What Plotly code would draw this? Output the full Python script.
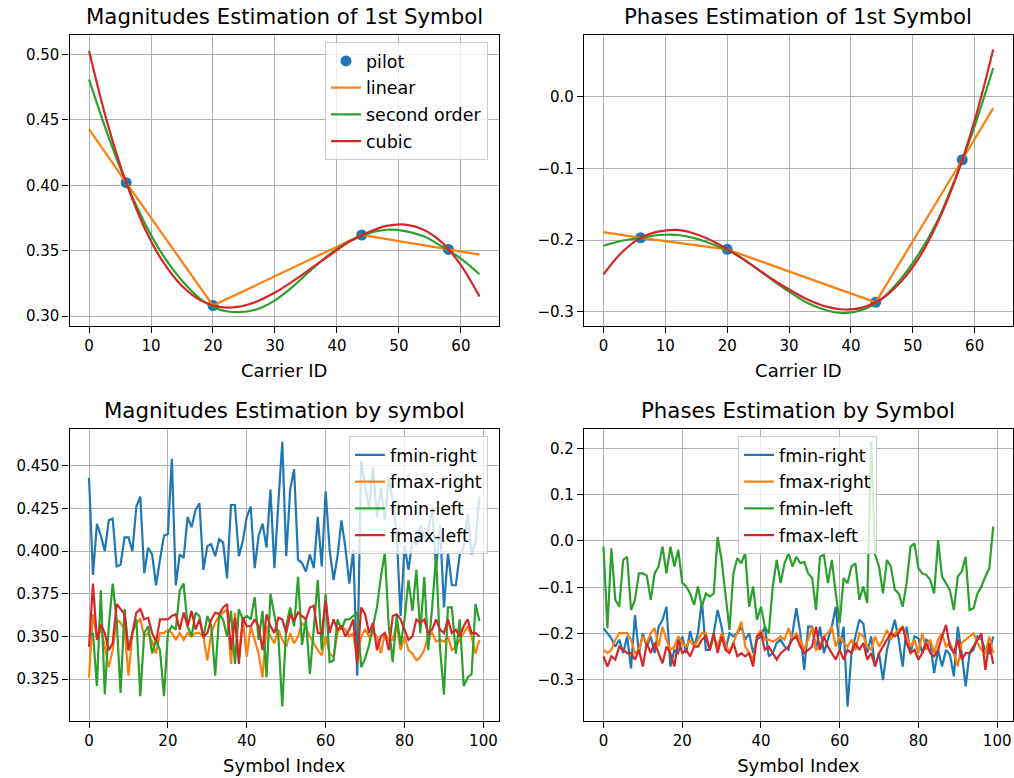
import plotly.graph_objects as go

# ---------------- data ----------------
pilot_x = [6, 20, 44, 58]
pilot_mag = [0.402, 0.308, 0.362, 0.351]
pilot_phase = [-0.197, -0.213, -0.287, -0.088]

linear_x = [0, 6, 20, 44, 58, 63]
linear_mag = [0.443, 0.402, 0.308, 0.362, 0.351, 0.347]
linear_phase = [-0.189, -0.197, -0.213, -0.287, -0.088, -0.016]

curve_x = [0, 3, 6, 9, 12, 15, 18, 21, 24, 27, 30, 33, 36, 39, 42, 45, 48, 51, 54, 57, 60, 63]
second_mag = [0.481, 0.439, 0.402, 0.371, 0.346, 0.327, 0.313, 0.305, 0.303, 0.305, 0.312,
              0.323, 0.336, 0.348, 0.357, 0.363, 0.366, 0.365, 0.361, 0.353, 0.344, 0.332]
cubic_mag = [0.503, 0.447, 0.402, 0.367, 0.341, 0.323, 0.312, 0.307, 0.307, 0.311, 0.318,
             0.327, 0.337, 0.347, 0.357, 0.364, 0.369, 0.370, 0.366, 0.356, 0.339, 0.315]
second_phase = [-0.208, -0.201, -0.197, -0.193, -0.193, -0.198, -0.207, -0.218, -0.235, -0.254, -0.272,
                -0.288, -0.298, -0.302, -0.297, -0.282, -0.255, -0.219, -0.173, -0.111, -0.041, 0.040]
cubic_phase = [-0.248, -0.217, -0.197, -0.188, -0.186, -0.192, -0.203, -0.218, -0.235, -0.253, -0.269,
               -0.283, -0.293, -0.297, -0.294, -0.282, -0.259, -0.225, -0.176, -0.113, -0.033, 0.066]

symbol_index = list(range(100))

mag_fmin_right = [
    0.443, 0.386, 0.416, 0.409, 0.400, 0.418, 0.419, 0.391, 0.392, 0.408,
    0.408, 0.400, 0.426, 0.432, 0.387, 0.402, 0.398, 0.380, 0.395, 0.409,
    0.410, 0.454, 0.380, 0.398, 0.396, 0.420, 0.414, 0.424, 0.428, 0.389,
    0.403, 0.404, 0.397, 0.407, 0.405, 0.384, 0.427, 0.427, 0.397, 0.406,
    0.420, 0.426, 0.390, 0.409, 0.416, 0.402, 0.436, 0.390, 0.428, 0.464,
    0.397, 0.436, 0.448, 0.395, 0.393, 0.388, 0.398, 0.390, 0.420, 0.391,
    0.435, 0.401, 0.383, 0.397, 0.418, 0.402, 0.381, 0.401, 0.327, 0.453,
    0.438, 0.425, 0.449, 0.420, 0.437, 0.418, 0.443, 0.430, 0.410, 0.362,
    0.403, 0.389, 0.406, 0.404, 0.415, 0.408, 0.412, 0.425, 0.390, 0.415,
    0.367, 0.399, 0.380, 0.380, 0.398, 0.402, 0.422, 0.398, 0.405, 0.432]
mag_fmax_right = [
    0.326, 0.363, 0.350, 0.354, 0.344, 0.332, 0.342, 0.360, 0.358, 0.354,
    0.327, 0.352, 0.358, 0.360, 0.350, 0.352, 0.347, 0.340, 0.352, 0.352,
    0.354, 0.352, 0.348, 0.352, 0.348,
    0.352, 0.350, 0.352, 0.352, 0.350, 0.336, 0.352, 0.358, 0.362, 0.364,
    0.366, 0.334, 0.364, 0.337, 0.360, 0.338, 0.356, 0.348, 0.340, 0.326,
    0.356, 0.350, 0.346, 0.354, 0.348, 0.344, 0.352,
    0.346, 0.350, 0.358, 0.355, 0.350, 0.346, 0.342, 0.339, 0.350, 0.340,
    0.338, 0.352, 0.356, 0.354, 0.350, 0.352, 0.336, 0.350, 0.354, 0.350,
    0.352, 0.350, 0.340, 0.352, 0.348, 0.348,
    0.357, 0.342, 0.350, 0.342, 0.340, 0.336, 0.338, 0.342, 0.350, 0.352,
    0.347, 0.348, 0.347, 0.350, 0.342, 0.344, 0.348, 0.352, 0.356, 0.350,
    0.340, 0.348]
mag_fmin_left = [
    0.350, 0.352, 0.321, 0.377, 0.316, 0.356, 0.381, 0.360, 0.317, 0.366,
    0.342, 0.352, 0.360, 0.315, 0.352, 0.356, 0.340, 0.348, 0.342, 0.315,
    0.352, 0.356, 0.354, 0.377, 0.381,
    0.356, 0.350, 0.364, 0.362, 0.349, 0.362, 0.356, 0.327, 0.363, 0.360,
    0.350, 0.365, 0.334, 0.366, 0.360, 0.362, 0.360, 0.373, 0.348, 0.365,
    0.326, 0.375, 0.363, 0.350, 0.309, 0.356, 0.367,
    0.356, 0.385, 0.345, 0.360, 0.328, 0.355, 0.383, 0.342, 0.375, 0.335,
    0.336, 0.360, 0.354, 0.360, 0.360, 0.362, 0.364, 0.332, 0.337, 0.345,
    0.356, 0.367, 0.385, 0.399, 0.356, 0.335,
    0.362, 0.345, 0.360, 0.383, 0.365, 0.389, 0.352, 0.385, 0.342, 0.367,
    0.397, 0.343, 0.316, 0.367, 0.367, 0.340, 0.360, 0.321, 0.326, 0.328,
    0.369, 0.359]
mag_fmax_left = [
    0.344, 0.381, 0.348, 0.357, 0.352, 0.342, 0.346, 0.369, 0.366, 0.363,
    0.342, 0.352, 0.364, 0.366, 0.360, 0.361, 0.352, 0.347, 0.360, 0.360,
    0.360, 0.362, 0.363, 0.354, 0.364,
    0.356, 0.365, 0.354, 0.360, 0.350, 0.352, 0.360, 0.364, 0.363, 0.367,
    0.369, 0.342, 0.361, 0.334, 0.361, 0.356, 0.356, 0.360, 0.356, 0.342,
    0.363, 0.356, 0.352, 0.361, 0.360, 0.352, 0.363,
    0.359, 0.364, 0.362, 0.360, 0.367, 0.368, 0.352, 0.352, 0.371, 0.352,
    0.360, 0.354, 0.356, 0.350, 0.354, 0.360, 0.334, 0.367, 0.363, 0.352,
    0.358, 0.342, 0.350, 0.352, 0.342, 0.362,
    0.363, 0.360, 0.354, 0.348, 0.350, 0.360, 0.358, 0.360, 0.352, 0.354,
    0.360, 0.354, 0.352, 0.360, 0.352, 0.354, 0.350, 0.356, 0.360, 0.352,
    0.352, 0.350]

ph_fmin_right = [
    -0.188, -0.199, -0.210, -0.228, -0.213, -0.242, -0.206, -0.275, -0.160, -0.242,
    -0.199, -0.228, -0.206, -0.242, -0.185, -0.170, -0.142, -0.271, -0.235, -0.242,
    -0.206, -0.242, -0.195, -0.228, -0.199, -0.130,
    -0.235, -0.235, -0.199, -0.149, -0.185, -0.235, -0.199, -0.206, -0.199, -0.185,
    -0.213, -0.199, -0.242, -0.213, -0.206, -0.185, -0.249, -0.242, -0.220, -0.213,
    -0.228, -0.235, -0.199, -0.145, -0.199, -0.278, -0.185,
    -0.185, -0.235, -0.185, -0.242, -0.213, -0.185, -0.142, -0.235, -0.185, -0.357,
    -0.242, -0.206, -0.170, -0.178, -0.242, -0.206, -0.271, -0.242, -0.300, -0.235,
    -0.199, -0.170, -0.213, -0.271, -0.185, -0.242,
    -0.206, -0.210, -0.242, -0.213, -0.220, -0.285, -0.235, -0.271, -0.235, -0.245,
    -0.292, -0.185, -0.242, -0.314, -0.242, -0.235, -0.206, -0.213, -0.235, -0.242,
    -0.206]
ph_fmax_right = [
    -0.235, -0.242, -0.235, -0.213, -0.199, -0.199, -0.199, -0.213, -0.242, -0.235,
    -0.206, -0.220, -0.199, -0.188, -0.228, -0.185, -0.213, -0.235, -0.228, -0.206,
    -0.220, -0.228, -0.213, -0.228, -0.213, -0.199,
    -0.199, -0.235, -0.206, -0.228, -0.199, -0.220, -0.242, -0.220, -0.199, -0.174,
    -0.228, -0.242, -0.256, -0.206, -0.192, -0.213, -0.213, -0.217, -0.213, -0.206,
    -0.213, -0.188, -0.213, -0.199, -0.213, -0.235, -0.213,
    -0.185, -0.235, -0.228, -0.206, -0.199, -0.185, -0.228, -0.206, -0.220, -0.228,
    -0.213, -0.235, -0.199, -0.206, -0.228, -0.235, -0.206, -0.228, -0.213, -0.192,
    -0.213, -0.199, -0.192, -0.185, -0.206, -0.228,
    -0.213, -0.242, -0.199, -0.235, -0.213, -0.242, -0.213, -0.199, -0.228, -0.220,
    -0.242, -0.271, -0.220, -0.213, -0.206, -0.199, -0.220, -0.235, -0.242, -0.206,
    -0.242]
ph_fmin_left = [
    -0.012, -0.188, -0.016, -0.127, -0.142, -0.041, -0.034, -0.149, -0.127, -0.070,
    -0.070, -0.075, -0.127, -0.070, -0.055, -0.012, -0.070, -0.012, -0.055, -0.019,
    -0.090, -0.098, -0.113, -0.138, -0.098, -0.142,
    -0.113, -0.120, -0.113, 0.009, -0.041, -0.113, -0.192, -0.070, -0.037, -0.048,
    -0.026, -0.142, -0.098, -0.170, -0.142, -0.185, -0.199, -0.098, -0.041, -0.091,
    -0.048, -0.026, -0.055, -0.034, -0.048, -0.045, -0.070,
    -0.080, -0.149, -0.034, -0.030, -0.091, -0.041, -0.113, -0.177, -0.080, -0.091,
    -0.055, -0.048, -0.127, -0.098, -0.134, 0.215, -0.030, -0.055, -0.113, -0.041,
    -0.055, -0.105, -0.113, -0.142, -0.091, -0.012,
    -0.005, -0.059, -0.070, -0.073, -0.084, -0.113, 0.002, -0.077, -0.091, -0.106,
    -0.149, -0.077, -0.066, -0.034, -0.149, -0.145, -0.113, -0.098, -0.077, -0.059,
    0.031]
ph_fmax_left = [
    -0.249, -0.271, -0.249, -0.256, -0.228, -0.235, -0.242, -0.242, -0.256, -0.235,
    -0.271, -0.220, -0.242, -0.220, -0.242, -0.264, -0.228, -0.242, -0.271, -0.213,
    -0.242, -0.235, -0.249, -0.228, -0.228, -0.213,
    -0.206, -0.235, -0.199, -0.242, -0.206, -0.235, -0.242, -0.220, -0.249, -0.242,
    -0.249, -0.242, -0.271, -0.206, -0.199, -0.235, -0.228, -0.242, -0.256, -0.242,
    -0.235, -0.228, -0.213, -0.206, -0.228, -0.242, -0.235,
    -0.228, -0.185, -0.235, -0.206, -0.228, -0.242, -0.256, -0.235, -0.256, -0.235,
    -0.242, -0.220, -0.235, -0.220, -0.256, -0.242, -0.271, -0.242, -0.228, -0.213,
    -0.199, -0.206, -0.199, -0.185, -0.220, -0.242,
    -0.235, -0.256, -0.242, -0.220, -0.242, -0.249, -0.235, -0.206, -0.181, -0.228,
    -0.242, -0.213, -0.256, -0.242, -0.242, -0.228, -0.213, -0.199, -0.278, -0.220,
    -0.265]

for s in (mag_fmin_right, mag_fmax_right, mag_fmin_left, mag_fmax_left,
          ph_fmin_right, ph_fmax_right, ph_fmin_left, ph_fmax_left):
    assert len(s) == 100, len(s)

# ---------------- styling ----------------
W, H = 1014, 778
BLUE, ORANGE, GREEN, RED = "#1f77b4", "#ff7f0e", "#2ca02c", "#d62728"
FONT = "DejaVu Sans"
TICK = 15
LEG = 17.5
LABEL = 18
TITLE = 21.3
LW = 2.2

xL = [69.5 / W, 499 / W]
xR = [584 / W, 1012.7 / W]
yT = [1 - 326 / H, 1 - 34.7 / H]
yB = [1 - 721 / H, 1 - 429 / H]

fig = go.Figure()

# top-left
fig.add_trace(go.Scatter(x=pilot_x, y=pilot_mag, mode="markers", name="pilot",
                         marker=dict(color=BLUE, size=11), xaxis="x", yaxis="y",
                         legend="legend", legendgroup="a"))
fig.add_trace(go.Scatter(x=linear_x, y=linear_mag, mode="lines", name="linear",
                         line=dict(color=ORANGE, width=LW), xaxis="x", yaxis="y",
                         legend="legend", legendgroup="b"))
fig.add_trace(go.Scatter(x=curve_x, y=second_mag, mode="lines", name="second order",
                         line=dict(color=GREEN, width=LW, shape="spline"), xaxis="x", yaxis="y",
                         legend="legend", legendgroup="c"))
fig.add_trace(go.Scatter(x=curve_x, y=cubic_mag, mode="lines", name="cubic",
                         line=dict(color=RED, width=LW, shape="spline"), xaxis="x", yaxis="y",
                         legend="legend", legendgroup="d"))

# top-right
fig.add_trace(go.Scatter(x=pilot_x, y=pilot_phase, mode="markers", showlegend=False,
                         marker=dict(color=BLUE, size=11), xaxis="x2", yaxis="y2"))
fig.add_trace(go.Scatter(x=linear_x, y=linear_phase, mode="lines", showlegend=False,
                         line=dict(color=ORANGE, width=LW), xaxis="x2", yaxis="y2"))
fig.add_trace(go.Scatter(x=curve_x, y=second_phase, mode="lines", showlegend=False,
                         line=dict(color=GREEN, width=LW, shape="spline"), xaxis="x2", yaxis="y2"))
fig.add_trace(go.Scatter(x=curve_x, y=cubic_phase, mode="lines", showlegend=False,
                         line=dict(color=RED, width=LW, shape="spline"), xaxis="x2", yaxis="y2"))

# bottom plots
names = ["fmin-right", "fmax-right", "fmin-left", "fmax-left"]
colors = [BLUE, ORANGE, GREEN, RED]
mag_series = [mag_fmin_right, mag_fmax_right, mag_fmin_left, mag_fmax_left]
ph_series = [ph_fmin_right, ph_fmax_right, ph_fmin_left, ph_fmax_left]
for i, (n, c, s) in enumerate(zip(names, colors, mag_series)):
    fig.add_trace(go.Scatter(x=symbol_index, y=s, mode="lines", name=n,
                             line=dict(color=c, width=LW), xaxis="x3", yaxis="y3",
                             legend="legend2", legendgroup="m" + str(i)))
for i, (n, c, s) in enumerate(zip(names, colors, ph_series)):
    fig.add_trace(go.Scatter(x=symbol_index, y=s, mode="lines", name=n,
                             line=dict(color=c, width=LW), xaxis="x4", yaxis="y4",
                             legend="legend3", legendgroup="p" + str(i)))


def ax(domain, anchor, rng, **kw):
    d = dict(domain=domain, anchor=anchor, range=rng, showline=True, linecolor="black",
             linewidth=1.2, mirror=True, ticks="outside", ticklen=6, tickwidth=1.2,
             tickcolor="black", showgrid=True, gridcolor="#b0b0b0", gridwidth=1.2,
             zeroline=False, tickfont=dict(family=FONT, size=TICK, color="black"))
    d.update(kw)
    return d


label_font = dict(family=FONT, size=LABEL, color="black")
fig.update_layout(
    width=W, height=H, margin=dict(l=0, r=0, t=0, b=0),
    plot_bgcolor="white", paper_bgcolor="white",
    font=dict(family=FONT, size=TICK, color="black"),
    xaxis=ax(xL, "y", [-3.15, 66.15], tickvals=[0, 10, 20, 30, 40, 50, 60],
             title=dict(text="Carrier ID", font=label_font, standoff=10)),
    yaxis=ax(yT, "x", [0.2924, 0.5152], tickvals=[0.30, 0.35, 0.40, 0.45, 0.50], tickformat=".2f"),
    xaxis2=ax(xR, "y2", [-3.15, 66.15], tickvals=[0, 10, 20, 30, 40, 50, 60],
              title=dict(text="Carrier ID", font=label_font, standoff=10)),
    yaxis2=ax(yT, "x2", [-0.320, 0.0865], tickvals=[-0.3, -0.2, -0.1, 0.0], tickformat=".1f"),
    xaxis3=ax(xL, "y3", [-4.95, 103.95], tickvals=[0, 20, 40, 60, 80, 100],
              title=dict(text="Symbol Index", font=label_font, standoff=10)),
    yaxis3=ax(yB, "x3", [0.3005, 0.4715],
              tickvals=[0.325, 0.350, 0.375, 0.400, 0.425, 0.450], tickformat=".3f"),
    xaxis4=ax(xR, "y4", [-4.95, 103.95], tickvals=[0, 20, 40, 60, 80, 100],
              title=dict(text="Symbol Index", font=label_font, standoff=10)),
    yaxis4=ax(yB, "x4", [-0.3885, 0.2417],
              tickvals=[-0.3, -0.2, -0.1, 0.0, 0.1, 0.2], tickformat=".1f"),
)

leg_common = dict(bgcolor="rgba(255,255,255,0.8)", bordercolor="#cccccc", borderwidth=1,
                  font=dict(family=FONT, size=LEG, color="black"),
                  xanchor="right", yanchor="top", traceorder="grouped", tracegroupgap=1)
fig.update_layout(
    legend=dict(x=488 / W, y=1 - 42 / H, **leg_common),
    legend2=dict(x=488 / W, y=1 - 436 / H, **leg_common),
    legend3=dict(x=877 / W, y=1 - 436 / H, **leg_common),
)

titles = [("Magnitudes Estimation of 1st Symbol", xL, yT),
          ("Phases Estimation of 1st Symbol", xR, yT),
          ("Magnitudes Estimation by symbol", xL, yB),
          ("Phases Estimation by Symbol", xR, yB)]
for text, xd, yd in titles:
    fig.add_annotation(text=text, x=(xd[0] + xd[1]) / 2, y=yd[1], xref="paper", yref="paper",
                       xanchor="center", yanchor="bottom", yshift=4, showarrow=False,
                       font=dict(family=FONT, size=TITLE, color="black"))

fig.write_html("out.html")
